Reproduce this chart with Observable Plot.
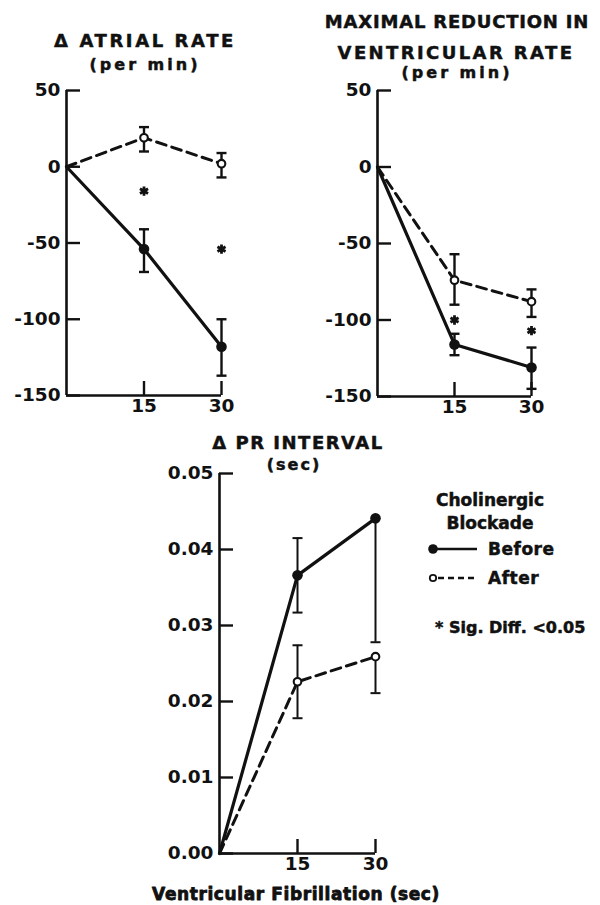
<!DOCTYPE html>
<html><head><meta charset="utf-8">
<script src="https://cdn.jsdelivr.net/npm/d3@7"></script>
<script src="https://cdn.jsdelivr.net/npm/@observablehq/plot@0.6"></script>
<style>
body{margin:0;background:#fff;}
#wrap{position:relative;width:600px;height:905px;overflow:hidden;background:#fff;}
.p{position:absolute;}
</style></head><body><div id="wrap"></div>
<script>
// ---------- DATA ----------
const timePoints = [0, 15, 30];             // Ventricular fibrillation (sec)
const xTickValues = [15, 30];

// Panel 1: Δ atrial rate (per min)
const atrialBefore   = [0, -54, -118];
const atrialBeforeLo = [null, -69, -137];
const atrialBeforeHi = [null, -41, -100];
const atrialAfter    = [0, 19, 2];
const atrialAfterLo  = [null, 10, -7];
const atrialAfterHi  = [null, 26, 9];
const atrialSigX = [15, 30];
const atrialSigY = [-16, -54];

// Panel 2: maximal reduction in ventricular rate (per min)
const ventBefore   = [0, -116, -131];
const ventBeforeLo = [null, -123, -145];
const ventBeforeHi = [null, -109, -118];
const ventAfter    = [0, -74, -88];
const ventAfterLo  = [null, -90, -98];
const ventAfterHi  = [null, -57, -80];
const ventSigX = [15, 30];
const ventSigY = [-100, -107];

// Panel 3: Δ PR interval (sec)
const prBefore   = [0, 0.0366, 0.0441];
const prBeforeLo = [null, 0.0317, 0.0278];
const prBeforeHi = [null, 0.0415, null];
const prAfter    = [0, 0.0226, 0.0259];
const prAfterLo  = [null, 0.0178, 0.0211];
const prAfterHi  = [null, 0.0274, null];

const rateTicks = [50, 0, -50, -100, -150];
const prTicks = [0.05, 0.04, 0.03, 0.02, 0.01, 0.00];

// ---------- HELPERS ----------
const INK = "#111";
const FONT = "DejaVu Sans";

const capSymbol = {draw(ctx, size) { const r = Math.sqrt(size / Math.PI); ctx.moveTo(-r, 0); ctx.lineTo(r, 0); }};

function rows(vals, lo, hi) {
  return timePoints.map((x, i) => ({x, y: vals[i], lo: lo[i], hi: hi[i]}));
}

function panel(cfg) {
  const before = rows(cfg.before, cfg.beforeLo, cfg.beforeHi);
  const after = rows(cfg.after, cfg.afterLo, cfg.afterHi);
  const all = [...before, ...after].filter(d => d.lo != null);
  const bars = all.map(d => ({x: d.x, y1: d.lo, y2: d.hi != null ? d.hi : d.y}));
  const caps = all.flatMap(d => [d.lo, d.hi].filter(v => v != null).map(v => ({x: d.x, y: v})));
  const sig = (cfg.sigX || []).map((x, i) => ({x, y: cfg.sigY[i]}));
  const yMin = cfg.yDomain[0];
  return Plot.plot({
    width: cfg.width, height: cfg.height,
    marginLeft: cfg.m[0], marginRight: cfg.m[1], marginTop: cfg.m[2], marginBottom: cfg.m[3],
    x: {domain: [0, 30]},
    y: {domain: cfg.yDomain},
    style: {fontFamily: FONT, fontSize: "18.5px", fontWeight: "bold", color: INK, background: "transparent", overflow: "visible"},
    marks: [
      Plot.ruleX([0], {stroke: INK, strokeWidth: 2.6}),
      Plot.ruleY([yMin], {stroke: INK, strokeWidth: 2.6}),
      Plot.axisY({ticks: cfg.yTicks, label: null, tickSize: -14, tickPadding: 20, tickFormat: cfg.fmt, strokeWidth: 2.4}),
      Plot.axisX({ticks: xTickValues, label: null, tickSize: -14, tickPadding: 17, tickFormat: d => String(d), strokeWidth: 2.4}),
      Plot.ruleX(bars, {x: "x", y1: "y1", y2: "y2", stroke: INK, strokeWidth: cfg.barW}),
      Plot.dot(caps, {x: "x", y: "y", symbol: capSymbol, r: 5, stroke: INK, strokeWidth: cfg.barW, fill: "none"}),
      Plot.line(before, {x: "x", y: "y", stroke: INK, strokeWidth: 3.2}),
      Plot.line(after, {x: "x", y: "y", stroke: INK, strokeWidth: 3, strokeDasharray: "10,6"}),
      Plot.dot(sig, {x: "x", y: "y", symbol: "asterisk", r: 4.4, stroke: INK, strokeWidth: 2.8}),
      Plot.dot(before.filter(d => d.x > 0), {x: "x", y: "y", r: 5.3, fill: INK, stroke: "none"}),
      Plot.dot(after.filter(d => d.x > 0), {x: "x", y: "y", r: 3.8, fill: "white", stroke: INK, strokeWidth: 2.1})
    ]
  });
}

const wrap = document.getElementById("wrap");
function place(node, left, top) {
  node.classList.add("p");
  node.style.left = left + "px";
  node.style.top = top + "px";
  wrap.appendChild(node);
}

const rateFmt = d => String(d);
place(panel({width: 300, height: 420, m: [66, 79, 90, 25], yDomain: [-150, 50], yTicks: rateTicks, fmt: rateFmt,
  before: atrialBefore, beforeLo: atrialBeforeLo, beforeHi: atrialBeforeHi,
  after: atrialAfter, afterLo: atrialAfterLo, afterHi: atrialAfterHi,
  sigX: atrialSigX, sigY: atrialSigY, barW: 2.4}), 0, 0);

place(panel({width: 300, height: 420, m: [77, 69, 90, 24], yDomain: [-150, 50], yTicks: rateTicks, fmt: rateFmt,
  before: ventBefore, beforeLo: ventBeforeLo, beforeHi: ventBeforeHi,
  after: ventAfter, afterLo: ventAfterLo, afterHi: ventAfterHi,
  sigX: ventSigX, sigY: ventSigY, barW: 2.4}), 300, 0);

place(panel({width: 420, height: 470, m: [219, 45, 53, 37], yDomain: [0, 0.05], yTicks: prTicks, fmt: d => d.toFixed(2),
  before: prBefore, beforeLo: prBeforeLo, beforeHi: prBeforeHi,
  after: prAfter, afterLo: prAfterLo, afterHi: prAfterHi, barW: 2}), 0, 420);

// ---------- TEXT OVERLAY (titles, legend) ----------
const svg = d3.create("svg").attr("width", 600).attr("height", 905)
  .style("position", "absolute").style("left", "0px").style("top", "0px")
  .style("font-family", FONT).style("font-weight", "bold").style("fill", INK)
  .style("pointer-events", "none");
function label(text, x, cy, size, spacing, anchor = "middle", bold = 0.5) {
  svg.append("text").attr("x", x).attr("y", cy + 0.365 * size)
    .attr("text-anchor", anchor).attr("font-size", size)
    .attr("letter-spacing", spacing)
    .attr("stroke", INK).attr("stroke-width", bold).attr("stroke-linejoin", "round")
    .text(text);
}
label("Δ ATRIAL RATE", 145, 40, 18, 2.6);
label("(per min)", 145, 64, 16, 3);
label("MAXIMAL REDUCTION IN", 457, 21, 18, 0.8);
label("VENTRICULAR RATE", 456, 52, 18, 2.4);
label("(per min)", 457, 72, 16, 3);
label("Δ PR INTERVAL", 298, 442, 18, 1.5);
label("(sec)", 294, 464, 16, 2);
label("Ventricular Fibrillation (sec)", 296, 894, 17, 0.6, "middle", 0.8);

label("Cholinergic", 490, 500, 17, 0);
label("Blockade", 490, 523, 17, 0);
label("Before", 488, 549, 17, 0.5, "start");
label("After", 488, 578, 17, 0.5, "start");
label("* Sig. Diff. <0.05", 435, 627, 16, 0, "start");
// legend swatches
svg.append("circle").attr("cx", 433).attr("cy", 549).attr("r", 4.8).attr("fill", INK);
svg.append("line").attr("x1", 436).attr("x2", 477).attr("y1", 549).attr("y2", 549).attr("stroke", INK).attr("stroke-width", 2.6);
svg.append("line").attr("x1", 436).attr("x2", 477).attr("y1", 578).attr("y2", 578).attr("stroke", INK).attr("stroke-width", 2.6).attr("stroke-dasharray", "6,4").attr("stroke-dashoffset", -2);
svg.append("circle").attr("cx", 433).attr("cy", 578).attr("r", 3.2).attr("fill", "white").attr("stroke", INK).attr("stroke-width", 1.8);
wrap.appendChild(svg.node());
</script>
</body></html>
